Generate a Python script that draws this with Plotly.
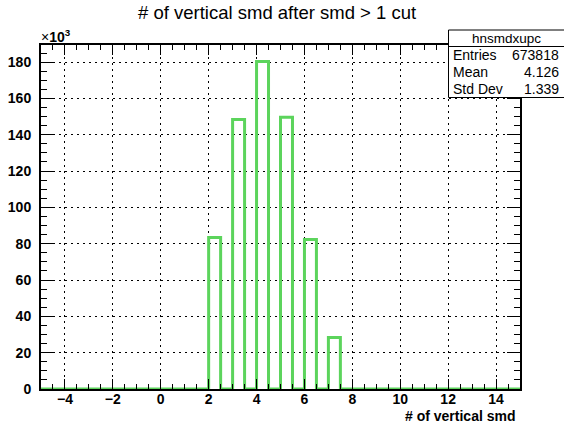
import plotly.graph_objects as go

# ---- data ----
title_text = "# of vertical smd after smd > 1 cut"
x_title = "# of vertical smd"
hist_name = "hnsmdxupc"
stats_labels = ["Entries", "Mean", "Std Dev"]
stats_values = ["673818", "4.126", "1.339"]

bin_width = 0.5
x_min, x_max = -5.0, 15.0
filled_bin_low_edges = [2.0, 3.0, 4.0, 5.0, 6.0, 7.0]
filled_bin_counts = [83400, 148400, 180400, 149600, 82300, 28400]

y_tick_values = [0, 20000, 40000, 60000, 80000, 100000, 120000, 140000, 160000, 180000]
y_tick_labels = ["0", "20", "40", "60", "80", "100", "120", "140", "160", "180"]
x_tick_values = [-4, -2, 0, 2, 4, 6, 8, 10, 12, 14]
x_tick_labels = ["\u22124", "\u22122", "0", "2", "4", "6", "8", "10", "12", "14"]

# ---- build histogram outline ----
n_bins = int(round((x_max - x_min) / bin_width))
edges = [x_min + i * bin_width for i in range(n_bins + 1)]
counts = [0] * n_bins
for lo, c in zip(filled_bin_low_edges, filled_bin_counts):
    idx = int(round((lo - x_min) / bin_width))
    counts[idx] = c
step_x = edges
step_y = counts + [counts[-1]]

y_max = max(filled_bin_counts) * 1.05

# ---- geometry (pixels) ----
W, H = 564, 425
L, R, T, B = 41, 520, 45, 389


def px(xp):
    return (xp - L) / (R - L)


def py(yp):
    return (B - yp) / (B - T)


green = "rgb(92,212,92)"
font_fam = "Liberation Sans, Arial, Helvetica, sans-serif"

fig = go.Figure()
fig.add_trace(go.Scatter(
    x=step_x, y=step_y, mode="lines", line=dict(color=green, width=3, shape="hv"),
    showlegend=False, hoverinfo="skip", cliponaxis=True))

axis_common = dict(
    showline=True, linecolor="black", linewidth=2, mirror="allticks",
    ticks="inside", tickcolor="black", tickwidth=1,
    showgrid=True, gridcolor="black", griddash="2px,4px", gridwidth=1,
    zeroline=False, automargin=False,
    tickfont=dict(family=font_fam, size=14, color="black", weight="bold"),
)

fig.update_xaxes(
    range=[x_min, x_max], tickmode="array", tickvals=x_tick_values, ticktext=x_tick_labels,
    ticklen=10, ticklabelstandoff=-4,
    minor=dict(dtick=0.5, tick0=0, ticklen=5, ticks="inside", tickcolor="black", tickwidth=1, showgrid=False),
    **axis_common)
fig.update_yaxes(
    range=[0, y_max], tickmode="array", tickvals=y_tick_values, ticktext=y_tick_labels,
    ticklen=13, ticklabelstandoff=5,
    minor=dict(dtick=5000, tick0=0, ticklen=6, ticks="inside", tickcolor="black", tickwidth=1, showgrid=False),
    **axis_common)

annotations = [
    dict(text=title_text, x=px(277), y=py(12), xref="paper", yref="paper",
         xanchor="center", yanchor="middle", showarrow=False,
         font=dict(family=font_fam, size=18.5, color="black")),
    dict(text="<b>" + x_title + "</b>", x=px(518), y=py(416), xref="paper", yref="paper",
         xanchor="right", yanchor="middle", showarrow=False,
         font=dict(family=font_fam, size=14, color="black")),
    dict(text="\u00d7<b>10<sup>3</sup></b>", x=px(39), y=py(36), xref="paper", yref="paper",
         xanchor="left", yanchor="middle", showarrow=False,
         font=dict(family=font_fam, size=14, color="black")),
    dict(text=hist_name, x=px(506), y=py(38.5), xref="paper", yref="paper",
         xanchor="center", yanchor="middle", showarrow=False,
         font=dict(family=font_fam, size=13.5, color="black")),
]
row_y = [55, 72, 89]
for lab, val, yy in zip(stats_labels, stats_values, row_y):
    annotations.append(dict(text=lab, x=px(451), y=py(yy), xref="paper", yref="paper",
                            xanchor="left", yanchor="middle", showarrow=False,
                            font=dict(family=font_fam, size=14, color="black")))
    annotations.append(dict(text=val, x=px(561), y=py(yy), xref="paper", yref="paper",
                            xanchor="right", yanchor="middle", showarrow=False,
                            font=dict(family=font_fam, size=14, color="black")))

shapes = [
    dict(type="rect", x0=px(448.5), x1=px(566), y0=py(97.5), y1=py(30), xref="paper", yref="paper",
         line=dict(color="black", width=1), fillcolor="white", layer="above"),
    dict(type="line", x0=px(448.5), x1=px(566), y0=py(46.5), y1=py(46.5), xref="paper", yref="paper",
         line=dict(color="black", width=1), layer="above"),
]

fig.update_layout(
    width=W, height=H,
    margin=dict(l=L, r=W - R, t=T, b=H - B, pad=0, autoexpand=False),
    paper_bgcolor="white", plot_bgcolor="white",
    annotations=annotations, shapes=shapes,
    showlegend=False,
)

fig.write_html(
    "out.html",
    config={"displayModeBar": False, "staticPlot": True},
    post_script="document.body.style.margin='0';document.body.style.padding='0';document.documentElement.style.overflow='hidden';",
)
